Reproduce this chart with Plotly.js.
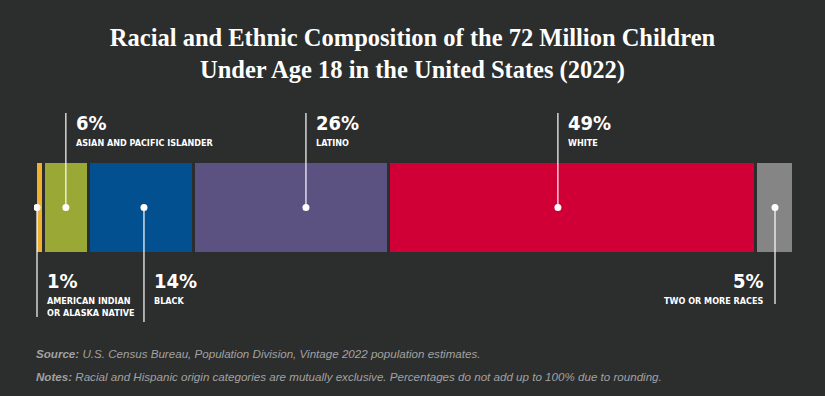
<!DOCTYPE html>
<html><head><meta charset="utf-8">
<script src="https://cdn.plot.ly/plotly-3.0.1.min.js"></script>
<style>html,body{margin:0;padding:0;background:#2c2d2d;}</style>
</head>
<body>
<div id="chart" style="width:825px;height:396px;"></div>
<script>
// ---- data ----
const categories = ["American Indian or Alaska Native", "Asian and Pacific Islander", "Black", "Latino", "White", "Two or More Races"];
const labelTexts = ["AMERICAN INDIAN<br>OR ALASKA NATIVE", "ASIAN AND PACIFIC ISLANDER", "BLACK", "LATINO", "WHITE", "TWO OR MORE RACES"];
const percentages = [1, 6, 14, 26, 49, 5];

// ---- styles / layout helpers ----
const colors = ["#f0b12f", "#9aa935", "#02508f", "#5b5282", "#d00036", "#858585"];
const labelSide = ["below", "above", "below", "above", "above", "below"];
const dotFrac = [0.15, 0.5, 0.53, 0.578, 0.462, 0.52];
const lineEndPx = [317, 113, 322, 113, 113, 304];
const bg = "#2c2d2d";
const BAR_TOP = 163, BAR_BOT = 252, PLOT_TOP = 100, PLOT_BOT = 330;
const barH = BAR_BOT - BAR_TOP, barMid = (BAR_TOP + BAR_BOT) / 2;
const yPx = p => (barMid - p) / barH;
const paperY = p => (PLOT_BOT - p) / (PLOT_BOT - PLOT_TOP);

const condensed = '"Liberation Sans Narrow", "DejaVu Sans Condensed", "Arial Narrow", sans-serif';

const traces = [];
categories.forEach((c, i) => {
  traces.push({
    type: 'bar', orientation: 'h', name: c,
    x: [percentages[i]], y: [0], width: 1.03,
    marker: {color: colors[i], line: {color: bg, width: 2.6}},
    hoverinfo: 'skip', showlegend: false
  });
});

// dot positions from cumulative data
const dotX = [];
let cum = 0;
percentages.forEach((v, i) => { dotX.push(cum + v * dotFrac[i]); cum += v; });

const annotations = [];
const pctFont = {family: condensed, size: 20, color: '#ffffff', weight: 'bold'};
const lblFont = {family: condensed, size: 9, color: '#ffffff', weight: 'bold'};
categories.forEach((c, i) => {
  traces.push({
    type: 'scatter', mode: 'lines', x: [dotX[i], dotX[i]], y: [0, yPx(lineEndPx[i])],
    line: {color: '#ffffff', width: 1.2}, hoverinfo: 'skip', showlegend: false
  });
  const right = (i === percentages.length - 1);
  const xa = right ? 'right' : 'left';
  const xs = right ? -9 : 8;
  if (labelSide[i] === 'above') {
    annotations.push({x: dotX[i], y: paperY(123), xref: 'x', yref: 'paper', xanchor: xa, yanchor: 'middle', xshift: xs,
      text: percentages[i] + '%', showarrow: false, font: pctFont});
    annotations.push({x: dotX[i], y: paperY(143), xref: 'x', yref: 'paper', xanchor: xa, yanchor: 'middle', xshift: xs,
      text: labelTexts[i], showarrow: false, font: lblFont});
  } else {
    annotations.push({x: dotX[i], y: paperY(281), xref: 'x', yref: 'paper', xanchor: xa, yanchor: 'middle', xshift: xs,
      text: percentages[i] + '%', showarrow: false, font: pctFont});
    annotations.push({x: dotX[i], y: paperY(294), xref: 'x', yref: 'paper', xanchor: xa, yanchor: 'top', xshift: xs, align: right ? 'right' : 'left',
      text: labelTexts[i], showarrow: false, font: lblFont});
  }
});
traces.push({
  type: 'scatter', mode: 'markers', x: dotX, y: dotX.map(() => 0),
  marker: {color: '#ffffff', size: 7}, hoverinfo: 'skip', showlegend: false
});

const footFont = {family: '"Liberation Sans", Arial, sans-serif', size: 11.6, color: '#a2a2a2'};
annotations.push({x: 0, xref: 'paper', y: paperY(353), yref: 'paper', xanchor: 'left', yanchor: 'middle', showarrow: false,
  text: '<b><i>Source:</i></b><i> U.S. Census Bureau, Population Division, Vintage 2022 population estimates.</i>', font: footFont});
annotations.push({x: 0, xref: 'paper', y: paperY(376), yref: 'paper', xanchor: 'left', yanchor: 'middle', showarrow: false,
  text: '<b><i>Notes:</i></b><i> Racial and Hispanic origin categories are mutually exclusive. Percentages do not add up to 100% due to rounding.</i>', font: footFont});

const total = percentages.reduce((a, b) => a + b, 0);
const layout = {
  width: 825, height: 396,
  paper_bgcolor: bg, plot_bgcolor: bg,
  margin: {l: 34, r: 32, t: PLOT_TOP, b: 396 - PLOT_BOT, pad: 0},
  barmode: 'stack',
  title: {
    text: 'Racial and Ethnic Composition of the 72 Million Children<br>Under Age 18 in the United States (2022)',
    font: {family: '"Liberation Serif", "DejaVu Serif", serif', size: 24.5, color: '#ffffff', weight: 'bold'},
    x: 0.5, xref: 'container', xanchor: 'center',
    y: 1 - 46 / 396, yref: 'container', yanchor: 'top'
  },
  xaxis: {range: [-0.25, total], visible: false, fixedrange: true},
  yaxis: {range: [yPx(PLOT_BOT), yPx(PLOT_TOP)], visible: false, fixedrange: true},
  annotations: annotations,
  showlegend: false
};
Plotly.newPlot('chart', traces, layout, {displayModeBar: false, staticPlot: true});
</script>
</body></html>
